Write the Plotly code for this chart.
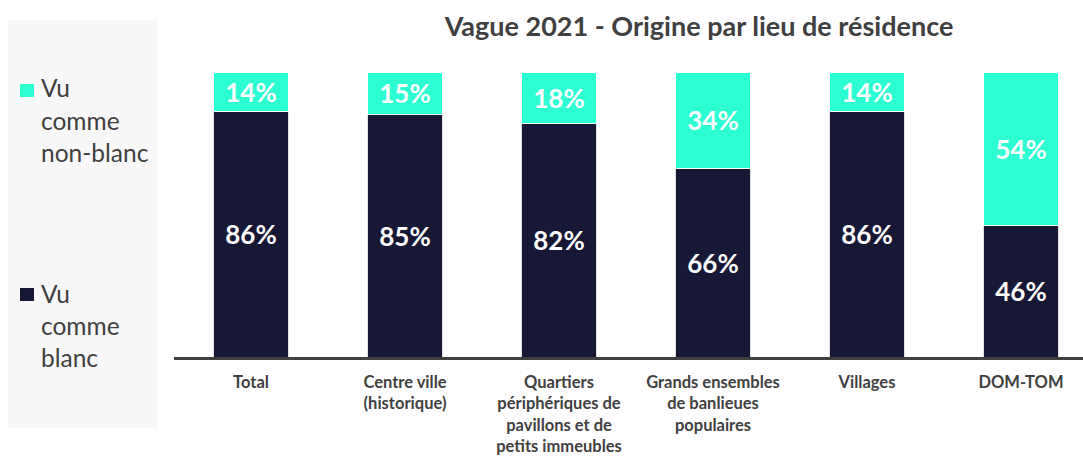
import plotly.graph_objects as go

categories = ["Total", "Centre ville<br>(historique)",
              "Quartiers<br>périphériques de<br>pavillons et de<br>petits immeubles",
              "Grands ensembles<br>de banlieues<br>populaires", "Villages", "DOM-TOM"]
blanc = [86, 85, 82, 66, 86, 46]
non_blanc = [14, 15, 18, 34, 14, 54]
series_names = ["Vu comme non-blanc", "Vu comme blanc"]
legend_lines = [["Vu", "comme", "non-blanc"], ["Vu", "comme", "blanc"]]
title_text = "Vague 2021 - Origine par lieu de résidence"

NAVY = "#171835"
TEAL = "#2cffd2"
GREY = "#404040"
FONT = "Lato"

W, H = 1083, 457
PL, PR, PT, PB = 174, 1083, 72, 357      # plot area in page pixels
L, R, T, B = PL, W - PR, PT, H - PB
STEP = 154.0

fig = go.Figure()
x = list(range(len(categories)))
for vals, name, color, lc in [(blanc, series_names[1], NAVY, "#e0e0e0"),
                              (non_blanc, series_names[0], TEAL, "#ffffff")]:
    fig.add_trace(go.Bar(x=x, y=vals, name=name,
                         marker=dict(color=color, line=dict(color=lc, width=1)),
                         width=0.49, text=[f"{v}%" for v in vals], textposition="inside",
                         insidetextanchor="middle", textangle=0,
                         textfont=dict(color="white", size=26, family=FONT, weight="bold")))

fig.update_layout(
    width=W, height=H, barmode="stack", showlegend=False,
    paper_bgcolor="white", plot_bgcolor="white",
    margin=dict(l=L, r=R, t=T, b=B, pad=0, autoexpand=False),
    font=dict(family=FONT, color=GREY),
    uniformtext=dict(minsize=26, mode="show"),
    title=dict(text=title_text, x=699 / W, xanchor="center",
               y=1 - 27 / H, yanchor="middle", xref="container", yref="container",
               font=dict(size=27, family=FONT, color=GREY, weight="bold")),
)
fig.update_xaxes(range=[-0.5, -0.5 + (W - L - R) / STEP], tickmode="array", tickvals=x, ticktext=categories,
                 showline=True, linecolor=GREY, linewidth=3, showgrid=False, zeroline=False,
                 ticks="", ticklabelstandoff=8, automargin=False,
                 tickfont=dict(size=16.5, family=FONT, color=GREY, weight="bold"))
fig.update_yaxes(range=[0, 100], visible=False, showgrid=False, zeroline=False, automargin=False)


def px2paper_x(px):
    return (px - L) / (W - L - R)


def px2paper_y(py):
    return (H - B - py) / (H - T - B)


# legend panel
fig.add_shape(type="rect", xref="paper", yref="paper",
              x0=px2paper_x(8), x1=px2paper_x(158), y0=px2paper_y(428), y1=px2paper_y(20),
              fillcolor="#f8f8f8", line=dict(width=0), layer="below")

legend_cfg = [(TEAL, 90, 88, legend_lines[0]), (NAVY, 294, 293, legend_lines[1])]
for color, ysq, ytxt, lines in legend_cfg:
    fig.add_shape(type="rect", xref="paper", yref="paper",
                  x0=px2paper_x(20), x1=px2paper_x(34), y0=px2paper_y(ysq + 7), y1=px2paper_y(ysq - 6),
                  fillcolor=color, line=dict(width=0))
    for i, ln in enumerate(lines):
        fig.add_annotation(xref="paper", yref="paper", x=px2paper_x(39), y=px2paper_y(ytxt + i * 32.3),
                           text=ln, showarrow=False, xanchor="left", yanchor="middle",
                           font=dict(size=24.5, family=FONT, color=GREY))

fig.write_html("out.html", config={"displayModeBar": False},
               post_script="document.body.style.margin='0';document.body.style.overflow='hidden';")
